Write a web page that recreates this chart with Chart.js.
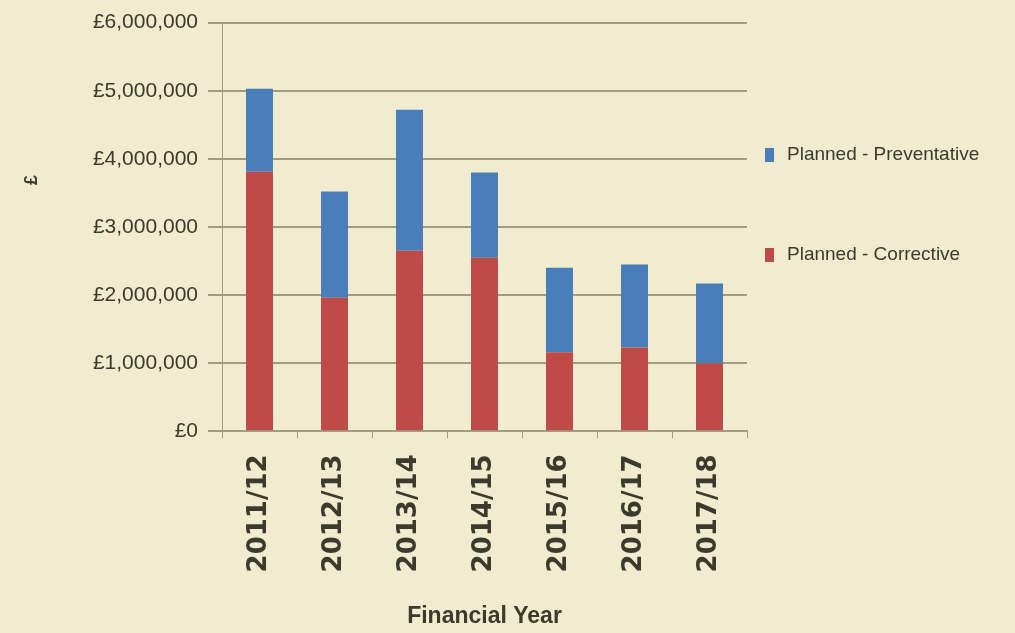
<!DOCTYPE html>
<html>
<head>
<meta charset="utf-8">
<script src="https://cdn.jsdelivr.net/npm/chart.js@4/dist/chart.umd.min.js"></script>
<style>
  html, body { margin: 0; padding: 0; background: #f1ebcf; }
  #wrap { width: 1015px; height: 633px; }
</style>
</head>
<body>
<div id="wrap"><canvas id="chart"></canvas></div>
<script>
const years = ['2011/12', '2012/13', '2013/14', '2014/15', '2015/16', '2016/17', '2017/18']
const corrective = [3810000, 1960000, 2650000, 2550000, 1160000, 1230000, 1000000]
const preventative = [1220000, 1560000, 2070000, 1250000, 1240000, 1220000, 1170000]

const inkColor = '#3b3a2c'
const gridColor = '#a19d80'

// rotated "£" title beside the value axis
const poundTitle = {
  id: 'poundTitle',
  afterDraw(chart) {
    const ctx = chart.ctx
    ctx.save()
    ctx.translate(32, 180)
    ctx.rotate(-Math.PI / 2)
    ctx.fillStyle = inkColor
    ctx.font = 'bold 18px "Liberation Sans"'
    ctx.textAlign = 'center'
    ctx.textBaseline = 'middle'
    ctx.fillText('£', 0, 0)
    ctx.restore()
  }
}

// legend in the right margin, top dataset first, widely spaced
const sideLegend = {
  id: 'sideLegend',
  afterDraw(chart) {
    const ctx = chart.ctx
    const x = chart.chartArea.right + 18
    const sets = chart.data.datasets.slice().reverse()
    ctx.save()
    ctx.font = '19px "Liberation Sans"'
    ctx.textBaseline = 'middle'
    sets.forEach((ds, i) => {
      const y = 155 + i * 100
      ctx.fillStyle = ds.backgroundColor
      ctx.fillRect(x, y - 7, 9, 14)
      ctx.fillStyle = inkColor
      ctx.fillText(ds.label, x + 22, y)
    })
    ctx.restore()
  }
}

const _data = {
  labels: years,
  datasets: [
    {
      label: 'Planned - Corrective',
      data: corrective,
      backgroundColor: '#be4b48',
      stack: 'planned',
    },
    {
      label: 'Planned - Preventative',
      data: preventative,
      backgroundColor: '#4a7ebb',
      stack: 'planned',
    },
  ]
}

const _options = {
  responsive: true,
  maintainAspectRatio: false,
  animation: false,
  layout: {
    padding: { top: 0, right: 268, left: 0, bottom: 3 }
  },
  datasets: {
    bar: {
      barPercentage: 0.36,
      categoryPercentage: 1,
    }
  },
  scales: {
    x: {
      stacked: true,
      grid: {
        drawOnChartArea: false,
        color: gridColor,
        tickLength: 7,
        lineWidth: 1,
      },
      border: { color: gridColor, width: 2 },
      ticks: {
        minRotation: 90,
        maxRotation: 90,
        padding: 16,
        color: inkColor,
        font: { family: 'DejaVu Sans', weight: 'bold', size: 26 },
      },
      title: {
        display: true,
        text: 'Financial Year',
        color: inkColor,
        padding: { top: 14, bottom: 0 },
        font: { family: 'Liberation Sans', weight: 'bold', size: 23 },
      },
    },
    y: {
      stacked: true,
      min: 0,
      max: 6000000,
      grid: {
        color: gridColor,
        lineWidth: 2,
        tickLength: 14,
      },
      border: { color: gridColor, width: 1 },
      ticks: {
        stepSize: 1000000,
        padding: 10,
        color: inkColor,
        font: { family: 'Liberation Sans', size: 21 },
        callback: (v) => '£' + v.toLocaleString('en-GB'),
      },
      afterFit(scale) { scale.width = 222 },
    }
  },
  plugins: {
    legend: { display: false },
    tooltip: { enabled: false },
  }
}

const ctx = document.getElementById('chart').getContext('2d')
new Chart(ctx, {
  type: 'bar',
  data: _data,
  options: _options,
  plugins: [poundTitle, sideLegend],
})
</script>
</body>
</html>
